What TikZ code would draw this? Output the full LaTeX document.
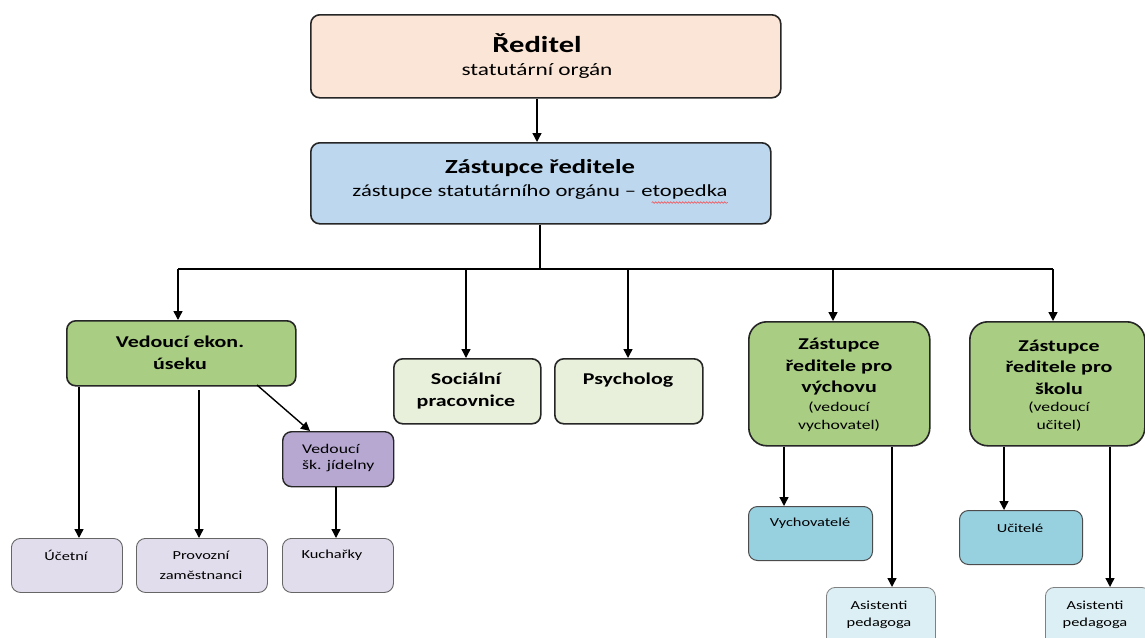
\documentclass[tikz,border=0pt]{standalone}
\usepackage{fontspec}
\setmainfont{Carlito}[FakeStretch=1.33]
\usetikzlibrary{arrows.meta,calc,decorations.pathmorphing}
\definecolor{cpeach}{HTML}{FBE5D6}
\definecolor{cblue}{HTML}{BDD7EE}
\definecolor{cgreen}{HTML}{A9CD82}
\definecolor{clgreen}{HTML}{E8F0DC}
\definecolor{cpurple}{HTML}{B7A8D2}
\definecolor{clav}{HTML}{E2DDEC}
\definecolor{cteal}{HTML}{97D0DF}
\definecolor{clteal}{HTML}{DCEFF4}
\tikzset{
  box/.style={draw=black!85, line width=1.6pt, rounded corners=9pt, anchor=north west, inner sep=0pt},
  arr/.style={line width=1.4pt, -{Triangle[width=9pt,length=9pt]}},
  ln/.style={line width=1.4pt},
  tb/.style={font=\bfseries\fontsize{16.5}{21.5}\selectfont, align=center, inner sep=0pt},
  ts/.style={font=\fontsize{12.3}{20}\selectfont, align=center, inner sep=0pt},
}
\begin{document}
\begin{tikzpicture}[x=1pt,y=-1pt]
\useasboundingbox[fill=white] (0,0) rectangle (1145,637);
% boxes
\node[box, fill=cpeach, minimum width=470, minimum height=83] (r) at (310,14) {};
\node[box, fill=cblue, minimum width=460, minimum height=81] (z) at (310,142) {};
\node[box, fill=cgreen, minimum width=229, minimum height=65] (ve) at (66,320) {};
\node[box, fill=clgreen, minimum width=147, minimum height=65] (so) at (393,358) {};
\node[box, fill=clgreen, minimum width=148, minimum height=65] (ps) at (554,358) {};
\node[box, fill=cgreen, rounded corners=18pt, minimum width=181, minimum height=124] (zv) at (748,321) {};
\node[box, fill=cgreen, rounded corners=18pt, minimum width=175, minimum height=124] (zs) at (969,321) {};
\node[box, fill=cpurple, minimum width=111, minimum height=55, line width=1.4pt] (vj) at (282,431) {};
\node[box, fill=clav, draw=black!60, line width=0.9pt, minimum width=111, minimum height=54] (uc) at (11,538) {};
\node[box, fill=clav, draw=black!60, line width=0.9pt, minimum width=131, minimum height=54] (pz) at (136,538) {};
\node[box, fill=clav, draw=black!60, line width=0.9pt, minimum width=111, minimum height=54] (ku) at (282,538) {};
\node[box, fill=cteal, draw=black!70, line width=1pt, minimum width=124, minimum height=54] (vy) at (748,506) {};
\node[box, fill=cteal, draw=black!70, line width=1pt, minimum width=123, minimum height=54] (ut) at (959,510) {};
\node[box, fill=clteal, draw=black!50, line width=0.8pt, minimum width=109, minimum height=60] (a1) at (826,587) {};
\node[box, fill=clteal, draw=black!50, line width=0.8pt, minimum width=105, minimum height=60] (a2) at (1045,587) {};
% texts
\node[font=\bfseries\fontsize{23}{28}\selectfont, inner sep=0pt] (rt1) at (537,43) {Ředitel};
\node[font=\fontsize{17.5}{21}\selectfont, inner sep=0pt] (rt2) at (537,71) {statutární orgán};
\node[font=\bfseries\fontsize{20}{24}\selectfont, inner sep=0pt] (zt1) at (540,168) {Zástupce ředitele};
\node[font=\fontsize{17}{20}\selectfont, inner sep=0pt] (zt2) at (540,192) {zástupce statutárního orgánu – etopedka};
\draw[red!80, line width=0.5pt, decorate, decoration={snake, amplitude=0.8pt, segment length=3pt}]
  ($(zt2.south east)+(-76,3)$) -- ($(zt2.south east)+(0,3)$);
\node[tb] (vet) at (180,353) {Vedoucí ekon.\\úseku};
\node[tb] (sot) at (466,391) {Sociální\\pracovnice};
\node[tb] (pst) at (628,380) {Psycholog};
\node[tb] (zvt) at (839,367) {Zástupce\\ředitele pro\\výchovu};
\node[font=\fontsize{13.3}{18}\selectfont, align=center, inner sep=0pt] (zvs) at (839,417) {(vedoucí\\vychovatel)};
\node[tb] (zst) at (1059,367) {Zástupce\\ředitele pro\\školu};
\node[font=\fontsize{13.3}{18}\selectfont, align=center, inner sep=0pt] (zss) at (1059,417) {(vedoucí\\učitel)};
\node[font=\fontsize{13.3}{16}\selectfont, align=left, inner sep=0pt, anchor=west] (vjt) at (302,458) {Vedoucí\\šk. jídelny};
\node[ts] (uct) at (66,555) {Účetní};
\node[ts] (pzt) at (201,565) {Provozní\\zaměstnanci};
\node[ts] (kut) at (332,555) {Kuchařky};
\node[ts] (vyt) at (810,523) {Vychovatelé};
\node[ts] (utt) at (1020,528) {Učitelé};
\node[ts, font=\fontsize{12.3}{17}\selectfont] (a1t) at (879,615) {Asistenti\\pedagoga};
\node[ts, font=\fontsize{12.3}{17}\selectfont] (a2t) at (1095,615) {Asistenti\\pedagoga};
% column coordinates
\coordinate (c537) at (537,0);
\coordinate (bus) at (540,269);
\coordinate (cve) at (178,0);
\coordinate (cso) at (466,0);
\coordinate (cps) at (628,0);
\coordinate (czv) at (833,0);
\coordinate (czs) at (1053,0);
\coordinate (c79) at (79,0);
\coordinate (c199) at (199,390);
\coordinate (c336) at (336,0);
\coordinate (dg1) at (257,385);
\coordinate (dg2) at (310,431);
\coordinate (c784) at (784,0);
\coordinate (c892) at (892,0);
\coordinate (c1004) at (1004,0);
\coordinate (c1110) at (1110,0);
% connectors
\draw[arr] (r.south -| c537) -- (z.north -| c537);
\draw[ln] (z.south -| bus) -- (bus);
\draw[ln] (bus -| cve) -- (bus -| czs);
\draw[arr] (bus -| cve) -- (ve.north -| cve);
\draw[arr] (bus -| cso) -- (so.north -| cso);
\draw[arr] (bus -| cps) -- (ps.north -| cps);
\draw[arr] (bus -| czv) -- (zv.north -| czv);
\draw[arr] (bus -| czs) -- (zs.north -| czs);
\draw[arr] (ve.south -| c79) -- (uc.north -| c79);
\draw[arr] (c199) -- (pz.north -| c199);
\draw[arr] (dg1) -- (dg2);
\draw[arr] (vj.south -| c336) -- (ku.north -| c336);
\draw[arr] (zv.south -| c784) -- (vy.north -| c784);
\draw[arr] (zv.south -| c892) -- (a1.north -| c892);
\draw[arr] (zs.south -| c1004) -- (ut.north -| c1004);
\draw[arr] (zs.south -| c1110) -- (a2.north -| c1110);
\end{tikzpicture}
\end{document}
